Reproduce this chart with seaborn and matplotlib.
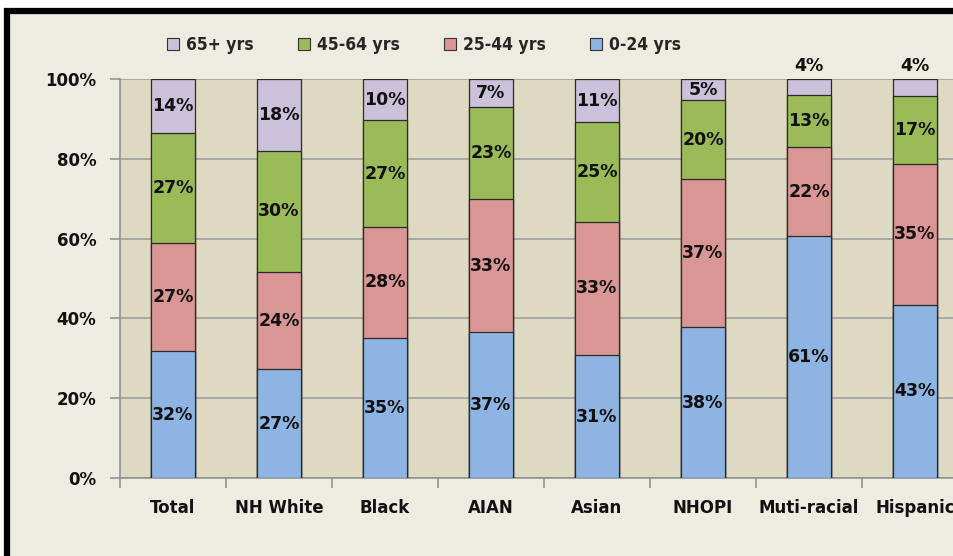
import numpy as np
import pandas as pd
import matplotlib
matplotlib.use("Agg")
import matplotlib.pyplot as plt
from matplotlib.patches import Patch, Rectangle
from matplotlib.ticker import PercentFormatter
from matplotlib.font_manager import FontProperties
import seaborn as sns

sns.set_theme(style="white")
plt.rcParams['font.family'] = ['DejaVu Sans']

# Data (percent of each group, bottom to top)
groups = ['Total', 'NH White', 'Black', 'AIAN', 'Asian', 'NHOPI', 'Muti-racial', 'Hispanic']
age_0_24 = [31.8, 27.3, 35.1, 36.6, 30.8, 37.8, 60.6, 43.4]
age_25_44 = [27.2, 24.3, 27.8, 33.3, 33.4, 37.1, 22.4, 35.3]
age_45_64 = [27.4, 30.4, 26.7, 23.1, 25.0, 19.8, 13.0, 17.0]
age_65_up = [13.6, 18.0, 10.4, 7.0, 10.8, 5.3, 4.0, 4.3]

series_names = ['0-24 yrs', '25-44 yrs', '45-64 yrs', '65+ yrs']
series_vals = [age_0_24, age_25_44, age_45_64, age_65_up]
colors = ['#8EB4E3', '#DA9694', '#9BBB59', '#CCC1DA']

W, H = 954, 556
fig = plt.figure(figsize=(W / 100, H / 100), dpi=100)
fig.patch.set_facecolor('white')

# outer frame of the chart
frame = Rectangle((7.5 / W, -0.1), 1.2, (H - 11) / H + 0.1, transform=fig.transFigure,
                  facecolor='#EEECE1', edgecolor='black', linewidth=4.5, zorder=-10)
fig.patches.append(frame)

ax = fig.add_axes([120 / W, 78 / H, 848 / W, 399 / H])
ax.set_facecolor('#DDD9C3')

df = pd.DataFrame({'group': groups})
cum = np.zeros(len(groups))
cums = []
for vals in series_vals:
    cum = cum + np.array(vals)
    cums.append(cum.copy())

# draw stacked bars from the top series down so lower ones overlay
for i in range(len(series_vals) - 1, -1, -1):
    df['cum'] = cums[i]
    sns.barplot(data=df, x='group', y='cum', color=colors[i], width=0.41,
                edgecolor='#2a2a2a', linewidth=0.9, saturation=1, ax=ax, zorder=3)

# value labels
for i, vals in enumerate(series_vals):
    for j, v in enumerate(vals):
        bottom = cums[i][j] - v
        if v < 4.5:
            y = 100.9
            va = 'bottom'
        else:
            y = bottom + v / 2
            va = 'center'
        ax.text(j, y, f"{v:.0f}%", ha='center', va=va, fontsize=12.5,
                fontweight='bold', color='#111111', zorder=5, clip_on=False)

ax.set_xlim(-0.5, len(groups) - 0.5)
ax.set_ylim(0, 100)
ax.set_yticks(np.arange(0, 101, 20))
ax.yaxis.set_major_formatter(PercentFormatter(decimals=0))
ax.set_axisbelow(True)
ax.grid(axis='y', color='#9A9A9A', linewidth=1.1, zorder=0)
ax.set_xlabel('')
ax.set_ylabel('')

for side in ['top', 'right']:
    ax.spines[side].set_visible(False)
for side in ['left', 'bottom']:
    ax.spines[side].set_color('#8C8C8C')
    ax.spines[side].set_linewidth(1.1)

ax.tick_params(axis='y', which='major', left=True, length=7, width=1.1,
               color='#8C8C8C', labelsize=12, pad=10)
ax.tick_params(axis='x', which='major', bottom=False, labelsize=12, pad=9)
ax.set_xticks(np.arange(-0.5, len(groups), 1.0), minor=True)
ax.tick_params(axis='x', which='minor', bottom=True, length=7, width=1.1,
               color='#8C8C8C')
for lab in ax.get_xticklabels() + ax.get_yticklabels():
    lab.set_fontweight('bold')
    lab.set_color('#111111')

# legend
handles = [Patch(facecolor=colors[i], edgecolor='#333333', linewidth=0.8,
                 label=series_names[i]) for i in [3, 2, 1, 0]]
leg_font = FontProperties(family=['DejaVu Sans'], weight='bold', stretch='condensed', size=12.5)
fig.legend(handles=handles, loc='center left', bbox_to_anchor=(151 / W, 1 - 45 / H),
           ncol=4, frameon=False, handlelength=0.7, handleheight=0.7,
           handletextpad=0.4, columnspacing=2.55, prop=leg_font)

fig.savefig('out.png', dpi=100, facecolor=fig.get_facecolor())
